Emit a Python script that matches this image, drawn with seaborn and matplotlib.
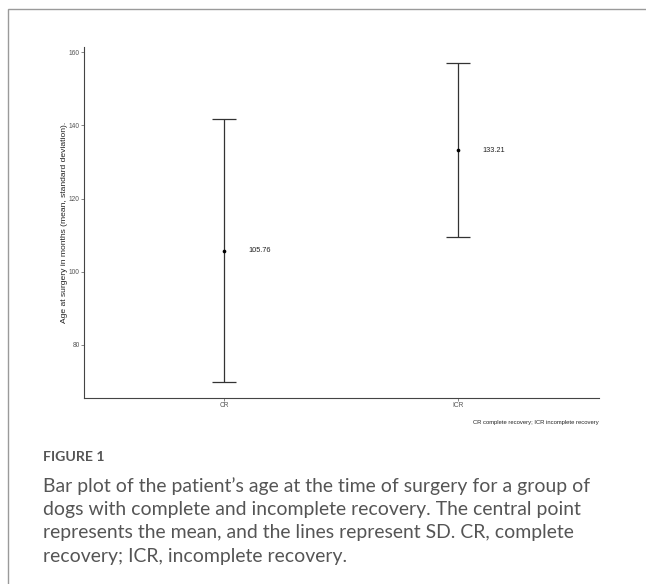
import matplotlib
matplotlib.use('Agg')
import matplotlib.pyplot as plt
import seaborn as sn
import pandas as pd
import numpy as np
from matplotlib.patches import Rectangle

# data
groups = ['CR', 'ICR']
means = [105.76, 133.21]
sds = [35.9, 23.8]
mean_labels = ['105.76', '133.21']

df = pd.DataFrame({'group': groups, 'mean': means, 'sd': sds})

sn.set_style('white')
plt.rcParams['font.family'] = ['Liberation Sans', 'DejaVu Sans']

fig = plt.figure(figsize=(6.46, 5.84), dpi=100)
ax = fig.add_axes([0.130, 0.3185, 0.797, 0.601])

ax.errorbar(df['group'], df['mean'], yerr=df['sd'], fmt='none',
            ecolor='#333333', elinewidth=0.9, capsize=8.5, capthick=0.9)
sn.scatterplot(data=df, x='group', y='mean', ax=ax, color='black',
               s=7, marker='o', linewidth=0, zorder=3)
for i in range(len(df)):
    ax.annotate(mean_labels[i], (i, df['mean'][i]), xytext=(17, 0),
                textcoords='offset points', fontsize=5.3, va='center',
                ha='left', color='#222222')

ax.set_xlim(-0.6, 1.6)
ax.set_ylim(65.5, 161.4)
ax.set_yticks([80, 100, 120, 140, 160])
ax.set_xlabel(None)
ax.set_ylabel('Age at surgery in months (mean, standard deviation).',
              fontsize=6.1, color='#222222', labelpad=0.5)
ax.tick_params(axis='both', labelsize=4.8, labelcolor='#555555',
               length=2, width=0.5, color='#555555', pad=1.2,
               left=True, bottom=True)
sn.despine(ax=ax)
for sp in ['left', 'bottom']:
    ax.spines[sp].set_linewidth(0.8)
    ax.spines[sp].set_color('#444444')

fig.text(0.927, 0.277, 'CR complete recovery; ICR incomplete recovery',
         fontsize=4.2, ha='right', va='center', color='#222222')

# outer frame of the figure panel
fig.add_artist(Rectangle((0.0124, -0.2), 1.2, 0.2 + 0.9846,
                         transform=fig.transFigure, fill=False,
                         edgecolor='#9a9a9a', linewidth=1.0))

cap_font = ['Lato', 'Open Sans', 'DejaVu Sans']
fig.text(0.066, 0.217, 'FIGURE 1', fontsize=10.2, color='#555555',
         family=cap_font, va='center', fontweight='bold')
caption = ("Bar plot of the patient\u2019s age at the time of surgery for a group of\n"
           "dogs with complete and incomplete recovery. The central point\n"
           "represents the mean, and the lines represent SD. CR, complete\n"
           "recovery; ICR, incomplete recovery.")
fig.text(0.066, 0.108, caption, fontsize=13.95, color='#555555',
         family=cap_font, va='center', linespacing=1.44)

fig.savefig('out.png', dpi=100)
